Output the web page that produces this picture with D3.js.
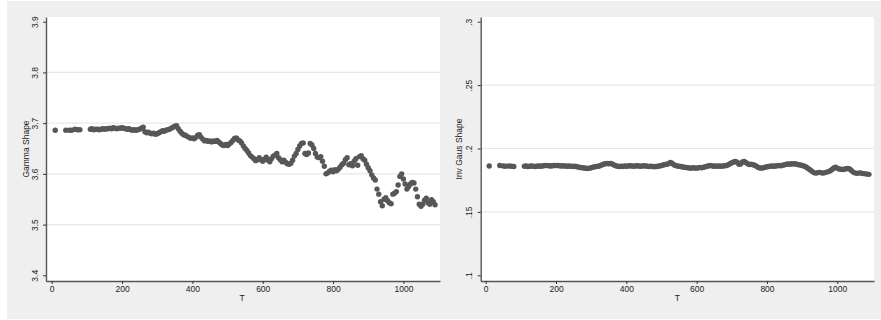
<!DOCTYPE html>
<html>
<head>
<meta charset="utf-8">
<script src="https://cdn.jsdelivr.net/npm/d3@7"></script>
<style>
  html, body { margin: 0; padding: 0; background: #ffffff; }
  svg { display: block; }
  text { font-family: "Liberation Sans", Arial, Helvetica, sans-serif; fill: #222; }
</style>
</head>
<body>
<svg id="chart" width="881" height="320"></svg>
<script>
// ---- data ----
const T = [10, 40, 50, 57, 66, 73, 80,
  110,115,120,125,130,135,140,145,150,155,160,165,170,175,180,185,190,195,200,205,210,215,220,225,230,235,240,245,250,255,
  260,265,270,275,280,285,290,295,300,305,310,315,320,325,330,335,340,345,350,355,360,365,370,375,380,385,390,395,400,405,
  410,415,420,425,430,435,440,445,450,455,460,465,470,475,480,485,490,495,500,505,510,515,520,525,530,535,540,545,550,555,
  560,565,570,575,580,585,590,595,600,605,610,615,620,625,630,635,640,645,650,655,660,665,670,675,680,685,690,695,700,705,
  710,715,720,725,730,735,740,745,750,755,760,765,770,775,780,785,790,795,800,805,810,815,820,825,830,835,840,845,850,855,
  860,865,870,875,880,885,890,895,900,905,910,915,920,925,930,935,940,945,950,955,960,965,970,975,980,985,990,995,1000,1005,
  1010,1015,1020,1025,1030,1035,1040,1045,1050,1055,1060,1065,1070,1075,1080,1085,1090];

const gammaShape = [3.686, 3.686, 3.686, 3.686, 3.688, 3.687, 3.687,
  3.688,3.689,3.687,3.688,3.688,3.687,3.688,3.689,3.688,3.689,3.689,3.690,3.689,3.691,3.690,3.689,3.690,3.690,3.691,3.690,3.689,3.688,3.689,3.687,3.686,3.687,3.686,3.687,3.688,3.690,
  3.692,3.683,3.681,3.682,3.680,3.679,3.680,3.678,3.679,3.681,3.683,3.685,3.684,3.686,3.687,3.688,3.690,3.692,3.694,3.695,3.689,3.684,3.680,3.677,3.676,3.674,3.672,3.670,3.671,3.669,
  3.672,3.676,3.677,3.672,3.668,3.665,3.666,3.664,3.665,3.663,3.665,3.664,3.666,3.663,3.660,3.657,3.656,3.658,3.656,3.659,3.662,3.666,3.670,3.671,3.667,3.665,3.661,3.655,3.650,3.646,
  3.641,3.636,3.633,3.630,3.626,3.628,3.632,3.628,3.625,3.629,3.633,3.627,3.624,3.630,3.635,3.637,3.640,3.632,3.628,3.624,3.627,3.623,3.620,3.619,3.621,3.627,3.635,3.640,3.648,3.655,
  3.660,3.661,3.640,3.638,3.641,3.660,3.657,3.650,3.640,3.633,3.632,3.634,3.625,3.615,3.600,3.602,3.605,3.607,3.604,3.608,3.606,3.609,3.613,3.618,3.621,3.628,3.632,3.618,3.620,3.616,
  3.625,3.630,3.617,3.634,3.636,3.630,3.627,3.619,3.612,3.606,3.598,3.592,3.588,3.570,3.560,3.545,3.537,3.550,3.553,3.547,3.543,3.541,3.560,3.562,3.565,3.578,3.595,3.600,3.590,3.580,
  3.570,3.575,3.580,3.583,3.582,3.570,3.555,3.540,3.536,3.540,3.548,3.552,3.543,3.540,3.549,3.545,3.539];

const invGausShape = [0.1862, 0.1866, 0.1862, 0.1860, 0.1862, 0.1860, 0.1858,
  0.1860,0.1862,0.1858,0.1860,0.1862,0.1860,0.1858,0.1860,0.1862,0.1860,0.1862,0.1864,0.1866,0.1865,0.1864,0.1862,0.1864,0.1866,0.1865,0.1866,0.1864,0.1862,0.1864,0.1862,0.1860,0.1862,0.1860,0.1861,0.1858,0.1860,
  0.1856,0.1852,0.1850,0.1848,0.1846,0.1844,0.1842,0.1845,0.1848,0.1852,0.1856,0.1858,0.1860,0.1864,0.1870,0.1876,0.1880,0.1882,0.1880,0.1882,0.1878,0.1870,0.1864,0.1860,0.1858,0.1860,0.1858,0.1862,0.1860,0.1862,
  0.1864,0.1862,0.1860,0.1862,0.1864,0.1862,0.1860,0.1862,0.1864,0.1862,0.1860,0.1858,0.1860,0.1858,0.1856,0.1858,0.1860,0.1862,0.1866,0.1870,0.1874,0.1876,0.1880,0.1890,0.1884,0.1872,0.1866,0.1862,0.1860,0.1858,
  0.1854,0.1852,0.1850,0.1848,0.1846,0.1845,0.1848,0.1846,0.1845,0.1848,0.1850,0.1848,0.1852,0.1856,0.1860,0.1864,0.1866,0.1862,0.1860,0.1862,0.1860,0.1862,0.1860,0.1862,0.1864,0.1866,0.1872,0.1880,0.1888,0.1894,
  0.1898,0.1892,0.1876,0.1878,0.1894,0.1898,0.1890,0.1880,0.1874,0.1876,0.1872,0.1868,0.1860,0.1850,0.1846,0.1846,0.1848,0.1852,0.1856,0.1858,0.1860,0.1862,0.1860,0.1862,0.1864,0.1866,0.1864,0.1868,0.1872,0.1876,
  0.1878,0.1876,0.1880,0.1878,0.1880,0.1876,0.1872,0.1870,0.1866,0.1862,0.1856,0.1846,0.1836,0.1826,0.1816,0.1808,0.1806,0.1810,0.1812,0.1808,0.1806,0.1810,0.1814,0.1818,0.1824,0.1834,0.1846,0.1852,0.1844,0.1838,
  0.1836,0.1834,0.1836,0.1840,0.1842,0.1838,0.1826,0.1814,0.1808,0.1804,0.1806,0.1808,0.1804,0.1802,0.1800,0.1798,0.1796];

const xTicks = [0, 200, 400, 600, 800, 1000];
const gammaTicks = [3.4, 3.5, 3.6, 3.7, 3.8, 3.9];
const gammaTickLabels = ["3.4", "3.5", "3.6", "3.7", "3.8", "3.9"];
const invTicks = [0.1, 0.15, 0.2, 0.25, 0.3];
const invTickLabels = [".1", ".15", ".2", ".25", ".3"];
const xTitle = "T";
const gammaTitle = "Gamma Shape";
const invTitle = "Inv Gaus Shape";

// ---- layout ----
const svg = d3.select("#chart");
svg.append("rect").attr("x", 7).attr("y", 1).attr("width", 874).attr("height", 318).attr("fill", "#efefef");

const plotTop = 17, plotBottom = 281;
const axisColor = "#555555";
const markColor = "#575757";

function panel(cfg) {
  const g = svg.append("g");
  const xBase = d3.scaleLinear().domain([0, 1000]).range([cfg.x0, cfg.x1000]);
  const x = d3.scaleLinear().domain([xBase.invert(cfg.left), xBase.invert(cfg.right)]).range([cfg.left, cfg.right]);
  const yBase = d3.scaleLinear().domain([cfg.yTicks[0], cfg.yTicks[cfg.yTicks.length - 1]]).range([275.3, 21.7]);
  const y = d3.scaleLinear().domain([yBase.invert(plotBottom), yBase.invert(plotTop)]).range([plotBottom, plotTop]);

  g.append("rect").attr("x", cfg.left).attr("y", plotTop)
    .attr("width", cfg.right - cfg.left).attr("height", plotBottom - plotTop).attr("fill", "#ffffff");

  g.append("g").selectAll("line").data(cfg.yTicks.slice(1, -1)).join("line")
    .attr("x1", cfg.left).attr("x2", cfg.right)
    .attr("y1", d => y(d)).attr("y2", d => y(d))
    .attr("stroke", "#e8e8e8").attr("stroke-width", 1.2);

  g.append("g").selectAll("circle").data(cfg.values.map((v, i) => [T[i], v])).join("circle")
    .attr("cx", d => x(d[0])).attr("cy", d => y(d[1])).attr("r", 2.7)
    .attr("fill", markColor);

  const xa = g.append("g").attr("transform", `translate(0,${plotBottom})`)
    .call(d3.axisBottom(x).tickValues(xTicks).tickSize(3).tickSizeOuter(0).tickPadding(2).tickFormat(d3.format("d")));
  xa.select(".domain").attr("stroke", axisColor).attr("stroke-width", 1.4);
  xa.selectAll(".tick line").attr("stroke", "#333").attr("stroke-width", 1);
  xa.selectAll(".tick text").attr("font-size", 8.5).attr("fill", "#222")
    .style("font-family", "'Liberation Sans', Arial, sans-serif");

  const ya = g.append("g").attr("transform", `translate(${cfg.left},0)`)
    .call(d3.axisLeft(y).tickValues(cfg.yTicks).tickSize(3).tickSizeOuter(0)
      .tickFormat((d, i) => cfg.yLabels[i]));
  ya.select(".domain").attr("stroke", axisColor).attr("stroke-width", 1.4);
  ya.selectAll(".tick line").attr("stroke", "#333").attr("stroke-width", 1);
  ya.selectAll(".tick text")
    .attr("x", 0).attr("dy", null)
    .attr("text-anchor", "middle")
    .attr("transform", `translate(${-cfg.labelOffset},0) rotate(-90)`)
    .attr("font-size", 8.5).attr("fill", "#222")
    .style("font-family", "'Liberation Sans', Arial, sans-serif");

  g.append("text").attr("x", (cfg.left + cfg.right) / 2 + cfg.xTitleShift).attr("y", 301)
    .attr("text-anchor", "middle").attr("font-size", 8.5).text(xTitle);
  g.append("text")
    .attr("transform", `translate(${cfg.left - cfg.titleOffset},${(plotTop + plotBottom) / 2}) rotate(-90)`)
    .attr("text-anchor", "middle").attr("font-size", 8.5).text(cfg.title);
}

panel({ left: 46, right: 440, x0: 51.7, x1000: 403.4, yTicks: gammaTicks, yLabels: gammaTickLabels,
        values: gammaShape, title: gammaTitle, labelOffset: 8.5, titleOffset: 17, xTitleShift: -1 });
panel({ left: 480.7, right: 874, x0: 485.7, x1000: 837.3, yTicks: invTicks, yLabels: invTickLabels,
        values: invGausShape, title: invTitle, labelOffset: 8.5, titleOffset: 18.5, xTitleShift: 0 });
</script>
</body>
</html>
